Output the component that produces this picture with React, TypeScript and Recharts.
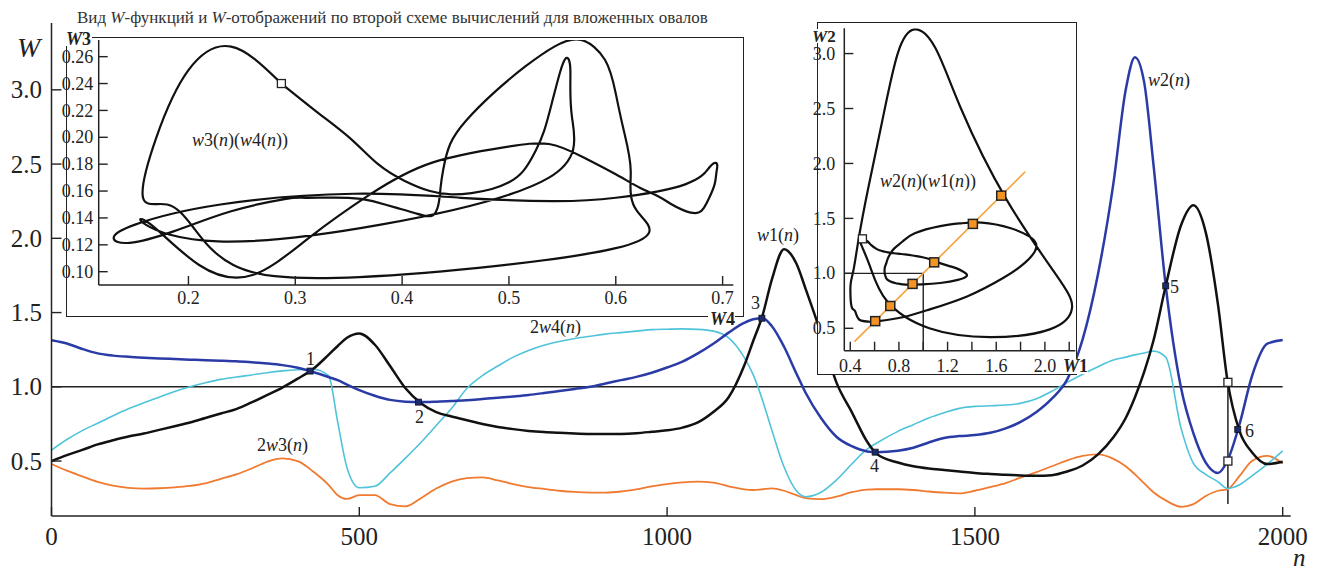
import React from 'react'
import { ComposedChart, Line, XAxis, YAxis, ReferenceLine, ReferenceDot } from 'recharts'

const SERIF = "'Liberation Serif', 'Times New Roman', 'DejaVu Serif', serif"
const INK = '#222'

// n grid shared by all four W-functions (denser where curves turn fast)
const N = [
  0, 25, 50, 75, 100, 125, 150, 175, 200, 225, 250, 275, 300, 325, 350, 375, 400, 425, 450,
  465, 480,
  500, 525, 550, 575, 600, 625, 650, 675, 700, 725, 750, 775, 800, 825, 850, 875, 900, 925, 950, 975,
  1000, 1025, 1050, 1075, 1100, 1125,
  1140, 1155, 1170, 1190, 1210, 1225,
  1250, 1275, 1300, 1325, 1340,
  1375, 1400, 1425, 1450, 1475, 1500, 1525, 1550, 1575, 1600, 1625, 1650, 1675, 1700, 1725,
  1745, 1760, 1775, 1790, 1810, 1835, 1855, 1875, 1895, 1910, 1930, 1950, 1975, 2000,
]

// w1(n) – black
const W1 = [
  0.5, 0.54, 0.575, 0.612, 0.64, 0.665, 0.685, 0.71, 0.735, 0.76, 0.79, 0.82, 0.85, 0.895, 0.944, 0.995, 1.055, 1.12, 1.215,
  1.275, 1.33,
  1.359, 1.285, 1.14, 0.99, 0.89, 0.83, 0.8, 0.775, 0.75, 0.73, 0.715, 0.703, 0.695, 0.69, 0.686, 0.683, 0.682, 0.683, 0.688, 0.697,
  0.707, 0.725, 0.76, 0.83, 0.93, 1.14,
  1.31, 1.48, 1.72, 1.927, 1.83, 1.66,
  1.36, 1.03, 0.83, 0.63, 0.55,
  0.49, 0.465, 0.45, 0.44, 0.43, 0.42, 0.413, 0.407, 0.403, 0.401, 0.405, 0.43, 0.47, 0.545, 0.66,
  0.79, 0.93, 1.1, 1.31, 1.68, 2.09, 2.223, 2.04, 1.55, 1.05, 0.7, 0.56, 0.48, 0.495,
]

// w2(n) – dark blue
const W2 = [
  1.314, 1.292, 1.255, 1.225, 1.21, 1.202, 1.196, 1.191, 1.187, 1.183, 1.179, 1.176, 1.172, 1.165, 1.157, 1.146, 1.128, 1.1, 1.066,
  1.045, 1.015,
  0.978, 0.94, 0.912, 0.9, 0.897, 0.9, 0.905, 0.91, 0.918, 0.926, 0.935, 0.945, 0.958, 0.972, 0.986, 1.0, 1.022, 1.045, 1.067, 1.095,
  1.13, 1.17, 1.225, 1.29, 1.365, 1.43,
  1.455, 1.462, 1.41, 1.27, 1.09, 0.96,
  0.79, 0.664, 0.6, 0.565, 0.56,
  0.57, 0.59, 0.625, 0.655, 0.668, 0.675, 0.69, 0.72, 0.765, 0.83, 0.92, 1.05, 1.32, 1.76, 2.37,
  3.0, 3.22, 3.05, 2.5, 1.68, 0.99, 0.686, 0.49, 0.42, 0.5, 0.75, 1.07, 1.29, 1.315,
]

// 2w4(n) – cyan
const W4X2 = [
  0.574, 0.645, 0.705, 0.755, 0.805, 0.852, 0.892, 0.93, 0.968, 1.0, 1.027, 1.05, 1.066, 1.08, 1.095, 1.107, 1.115, 1.118, 1.075,
  0.76, 0.455,
  0.32, 0.33, 0.42, 0.52, 0.625, 0.74, 0.855, 0.99, 1.075, 1.14, 1.2, 1.245, 1.28, 1.305, 1.325, 1.34, 1.355, 1.365, 1.375, 1.385,
  1.388, 1.39, 1.387, 1.375, 1.33, 1.2,
  1.08, 0.91, 0.71, 0.46, 0.3, 0.26,
  0.29, 0.372, 0.48, 0.58, 0.62,
  0.7, 0.745, 0.79, 0.825, 0.855, 0.868, 0.872, 0.877, 0.89, 0.92, 0.97, 1.03, 1.085, 1.135, 1.18,
  1.2, 1.215, 1.228, 1.24, 1.2, 0.72, 0.484, 0.41, 0.36, 0.315, 0.34, 0.4, 0.48, 0.569,
]

// 2w3(n) – orange
const W3X2 = [
  0.48, 0.435, 0.397, 0.36, 0.335, 0.32, 0.315, 0.317, 0.323, 0.333, 0.35, 0.38, 0.41, 0.45, 0.495, 0.518, 0.5, 0.43, 0.34,
  0.27, 0.245,
  0.27, 0.27, 0.21, 0.195, 0.25, 0.315, 0.362, 0.385, 0.39, 0.37, 0.345, 0.325, 0.312, 0.3, 0.292, 0.288, 0.288, 0.295, 0.31, 0.33,
  0.345, 0.357, 0.362, 0.355, 0.33, 0.31,
  0.305, 0.31, 0.316, 0.3, 0.27, 0.25,
  0.243, 0.26, 0.29, 0.308, 0.31,
  0.31, 0.305, 0.295, 0.287, 0.283, 0.3, 0.325, 0.352, 0.39, 0.425, 0.465, 0.505, 0.535, 0.545, 0.515,
  0.465, 0.41, 0.35, 0.29, 0.235, 0.192, 0.21, 0.265, 0.3, 0.31, 0.4, 0.5, 0.535, 0.484,
]

const MAIN_X_TICKS = [0, 500, 1000, 1500, 2000]
const MAIN_Y_TICKS = [0.5, 1.0, 1.5, 2.0, 2.5, 3.0]
const LEFT_X_TICKS = [0.2, 0.3, 0.4, 0.5, 0.6, 0.7]
const LEFT_Y_TICKS = [0.1, 0.12, 0.14, 0.16, 0.18, 0.2, 0.22, 0.24, 0.26]
const RIGHT_X_TICKS = [0.4, 0.6, 0.8, 1.0, 1.2, 1.4, 1.6, 1.8, 2.0, 2.2]
const RIGHT_X_LABELS = [0.4, 0.8, 1.2, 1.6, 2.0]
const RIGHT_Y_TICKS = [0.5, 1.0, 1.5, 2.0, 2.5, 3.0]

// points where w1(n) = w2(n)
const CROSS = [
  { id: '1', n: 420, v: 1.106 },
  { id: '2', n: 596, v: 0.897 },
  { id: '3', n: 1154, v: 1.462 },
  { id: '4', n: 1338, v: 0.56 },
  { id: '5', n: 1810, v: 1.68 },
  { id: '6', n: 1927, v: 0.713 },
]

// cut at n ≈ 1911
const CUT_N = 1911
const CUT_W1 = 1.03
const CUT_W2 = 0.5
const CUT_BOTTOM = 0.21

// the same crossings as seen on the w2(w1) map
const FIXED = [
  { x: 0.605, y: 0.565 },
  { x: 0.729, y: 0.703 },
  { x: 0.912, y: 0.904 },
  { x: 1.09, y: 1.1 },
  { x: 1.408, y: 1.45 },
  { x: 1.641, y: 1.707 },
]
const DIAG = [{ x: 0.435, y: 0.378 }, { x: 1.838, y: 1.924 }]

const mainData = N.map((n, i) => ({ n, w1: W1[i], w2: W2[i], w4x2: W4X2[i], w3x2: W3X2[i] }))
const mapW3W4 = N.map((_, i) => ({ x: W4X2[i] / 2, y: W3X2[i] / 2 }))
const mapW2W1 = N.map((_, i) => ({ x: W1[i], y: W2[i] }))

const txt = { fontFamily: SERIF }

// ticks point inward, labels sit outside
function yTick(len: number, fs: number, gap: number, digits: number) {
  return (p: any) => (
    <g>
      <line x1={p.x} y1={p.y} x2={p.x + len} y2={p.y} stroke={INK} strokeWidth={1.4} />
      <text x={p.x - gap} y={p.y + fs * 0.34} textAnchor="end" fontSize={fs} fontFamily={SERIF} style={txt} fill={INK}>
        {Number(p.payload.value).toFixed(digits)}
      </text>
    </g>
  )
}
function xTick(len: number, fs: number, off: number, digits: number, labels?: number[]) {
  return (p: any) => {
    const v = Number(p.payload.value)
    const show = !labels || labels.some((l) => Math.abs(l - v) < 1e-6)
    return (
      <g>
        <line x1={p.x} y1={p.y} x2={p.x} y2={p.y - len} stroke={INK} strokeWidth={1.4} />
        {show && (
          <text x={p.x} y={p.y + off} textAnchor="middle" fontSize={fs} fontFamily={SERIF} style={txt} fill={INK}>
            {v.toFixed(digits)}
          </text>
        )}
      </g>
    )
  }
}

const navySquare = (p: any) => (
  <rect x={p.cx - 3} y={p.cy - 3} width={6} height={6} fill="#1c2a6e" stroke="#111" strokeWidth={0.8} />
)
const whiteSquare = (p: any) => (
  <rect x={p.cx - 4} y={p.cy - 4} width={8} height={8} fill="#fff" stroke={INK} strokeWidth={1.3} />
)
const orangeSquare = (p: any) => (
  <rect x={p.cx - 4.5} y={p.cy - 4.5} width={9} height={9} fill="#f29322" stroke={INK} strokeWidth={1.5} />
)

const it = (s: string) => <tspan fontStyle="italic">{s}</tspan>

export default function App() {
  const axisLine = { stroke: INK, strokeWidth: 1.5 }
  return (
    <div style={{ position: 'absolute', left: 0, top: 0, width: 1322, height: 573, background: '#fff', overflow: 'hidden', fontFamily: SERIF }}>
      <style>{'.recharts-surface{overflow:visible}'}</style>

      {/* main chart: W-functions over n */}
      <div style={{ position: 'absolute', left: 0, top: 0 }}>
        <ComposedChart width={1322} height={573} data={mainData} margin={{ top: 23, right: 31.3, bottom: 17, left: 6.5 }}>
          <XAxis dataKey="n" type="number" domain={[0, 2013]} ticks={MAIN_X_TICKS} interval={0} allowDataOverflow
            height={40} tickSize={0} tickMargin={0} tickLine={false} axisLine={axisLine} tick={xTick(9, 25, 28.5, 0)} />
          <YAxis type="number" domain={[0.13, 3.45]} ticks={MAIN_Y_TICKS} interval={0} allowDataOverflow
            width={45} tickSize={0} tickMargin={0} tickLine={false} axisLine={axisLine} tick={yTick(10, 25, 9.5, 1)} />
          <ReferenceLine segment={[{ x: 0, y: 1 }, { x: 2000, y: 1 }]} stroke={INK} strokeWidth={1.5} />
          <ReferenceLine segment={[{ x: CUT_N, y: CUT_BOTTOM }, { x: CUT_N, y: CUT_W1 }]} stroke={INK} strokeWidth={1.5} />
          <Line dataKey="w3x2" type="monotone" stroke="#f07a30" strokeWidth={1.8} dot={false} isAnimationActive={false} />
          <Line dataKey="w4x2" type="monotone" stroke="#4fc3da" strokeWidth={1.6} dot={false} isAnimationActive={false} />
          <Line dataKey="w2" type="monotone" stroke="#2b3ba6" strokeWidth={2.5} dot={false} isAnimationActive={false} />
          <Line dataKey="w1" type="monotone" stroke="#111" strokeWidth={2.5} dot={false} isAnimationActive={false} />
          {CROSS.map((c) => (
            <ReferenceDot key={c.id} x={c.n} y={c.v} r={3} shape={navySquare} />
          ))}
          <ReferenceDot x={CUT_N} y={CUT_W1} r={4} shape={whiteSquare} />
          <ReferenceDot x={CUT_N} y={CUT_W2} r={4} shape={whiteSquare} />
        </ComposedChart>
      </div>

      {/* inset: w3(w4) */}
      <div style={{ position: 'absolute', left: 66, top: 37, width: 678, height: 280, boxSizing: 'border-box', border: `1.5px solid ${INK}`, background: '#fff' }} />
      <div style={{ position: 'absolute', left: 66, top: 37 }}>
        <ComposedChart width={678} height={280} data={mapW3W4} margin={{ top: 3, right: 10.7, bottom: 7, left: 2.7 }}>
          <XAxis dataKey="x" type="number" domain={[0.116, 0.71]} ticks={LEFT_X_TICKS} interval={0} allowDataOverflow
            height={25} tickSize={0} tickMargin={0} tickLine={false} axisLine={axisLine} tick={xTick(9, 18, 18.5, 1)} />
          <YAxis type="number" domain={[0.0901, 0.2724]} ticks={LEFT_Y_TICKS} interval={0} allowDataOverflow
            width={30} tickSize={0} tickMargin={0} tickLine={false} axisLine={axisLine} tick={yTick(9, 18, 5.5, 2)} />
          <Line dataKey="y" type="natural" stroke="#111" strokeWidth={2.2} dot={false} isAnimationActive={false} />
          <ReferenceDot x={mapW3W4[0].x} y={mapW3W4[0].y} r={3} shape={whiteSquare} />
        </ComposedChart>
      </div>

      {/* inset: w2(w1) */}
      <div style={{ position: 'absolute', left: 816.7, top: 21.7, width: 260, height: 353.3, boxSizing: 'border-box', border: `1.5px solid ${INK}`, background: '#fff' }} />
      <div style={{ position: 'absolute', left: 816.7, top: 21.7 }}>
        <ComposedChart width={260} height={353.3} data={mapW2W1} margin={{ top: 6.3, right: 1.7, bottom: 4.6, left: 7.3 }}>
          <XAxis dataKey="x" type="number" domain={[0.351, 2.25]} ticks={RIGHT_X_TICKS} interval={0} allowDataOverflow
            height={20} tickSize={0} tickMargin={0} tickLine={false} axisLine={axisLine} tick={xTick(9, 18, 21, 1, RIGHT_X_LABELS)} />
          <YAxis type="number" domain={[0.296, 3.23]} ticks={RIGHT_Y_TICKS} interval={0} allowDataOverflow
            width={20} tickSize={0} tickMargin={0} tickLine={false} axisLine={axisLine} tick={yTick(9, 18, 9, 1)} />
          <ReferenceLine segment={[{ x: 1, y: 0.296 }, { x: 1, y: 1 }]} stroke={INK} strokeWidth={1.4} />
          <ReferenceLine segment={[{ x: 0.351, y: 1 }, { x: 1, y: 1 }]} stroke={INK} strokeWidth={1.4} />
          <ReferenceLine segment={DIAG} stroke="#f5a23a" strokeWidth={1.6} />
          <Line dataKey="y" type="natural" stroke="#111" strokeWidth={2.2} dot={false} isAnimationActive={false} />
          {FIXED.map((f, i) => (
            <ReferenceDot key={i} x={f.x} y={f.y} r={4} shape={orangeSquare} />
          ))}
          <ReferenceDot x={mapW2W1[0].x} y={mapW2W1[0].y} r={3} shape={whiteSquare} />
        </ComposedChart>
      </div>

      {/* annotations */}
      <svg width={1322} height={573} style={{ position: 'absolute', left: 0, top: 0, pointerEvents: 'none', fontFamily: SERIF }} fontFamily={SERIF}>
        <text x={77} y={23} fontSize={17} fill="#333">
          Вид {it('W')}-функций и {it('W')}-отображений по второй схеме вычислений для вложенных овалов
        </text>
        <text x={17} y={57} fontSize={28} fontStyle="italic" fill={INK}>W</text>
        <text x={1293} y={566} fontSize={25} fontStyle="italic" fill={INK}>n</text>

        <text x={757} y={241} fontSize={18} fill={INK}>{it('w')}1({it('n')})</text>
        <text x={1148} y={86} fontSize={18} fill={INK}>{it('w')}2({it('n')})</text>
        <text x={530} y={333} fontSize={18} fill={INK}>2{it('w')}4({it('n')})</text>
        <text x={257} y={451} fontSize={18} fill={INK}>2{it('w')}3({it('n')})</text>
        <text x={192} y={146} fontSize={18} fill={INK}>{it('w')}3({it('n')})({it('w')}4({it('n')}))</text>
        <text x={880} y={187} fontSize={18} fill={INK}>{it('w')}2({it('n')})({it('w')}1({it('n')}))</text>

        <text x={306} y={365} fontSize={18} fill={INK}>1</text>
        <text x={415} y={423} fontSize={18} fill={INK}>2</text>
        <text x={751} y={309} fontSize={18} fill={INK}>3</text>
        <text x={870} y={472} fontSize={18} fill={INK}>4</text>
        <text x={1170} y={293} fontSize={18} fill={INK}>5</text>
        <text x={1245} y={437} fontSize={18} fill={INK}>6</text>

        <rect x={64} y={31} width={28} height={15} fill="#fff" />
        <text x={66} y={45} fontSize={18} fontWeight="bold" fill={INK}>{it('W')}3</text>
        <rect x={708} y={311} width={27} height={15} fill="#fff" />
        <text x={710} y={325} fontSize={18} fontWeight="bold" fill={INK}>{it('W')}4</text>
        <rect x={811} y={29} width={24} height={14} fill="#fff" />
        <text x={812} y={42} fontSize={17} fontWeight="bold" fill={INK}>{it('W')}2</text>
        <rect x={1062} y={359} width={26} height={15} fill="#fff" />
        <text x={1063} y={372} fontSize={18} fontWeight="bold" fill={INK}>{it('W')}1</text>
      </svg>
    </div>
  )
}
